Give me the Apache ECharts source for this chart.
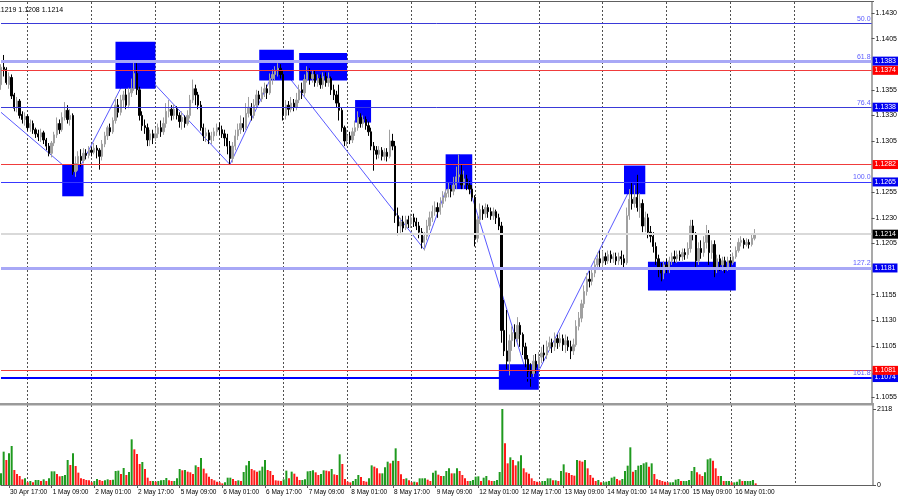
<!DOCTYPE html>
<html><head><meta charset="utf-8">
<script src="https://cdn.jsdelivr.net/npm/echarts@6/dist/echarts.min.js"></script>
<style>html,body{margin:0;padding:0;background:#fff}#c{width:900px;height:500px}</style>
</head><body><div id="c"></div>
<script>
// ---- DATA (prices stored as pips above 1.1000, i.e. price = 1.1 + v/10000) ----
const N_CATS = 328; // hourly slots shown on the axis (incl. empty future)
const opens = [
360,377,375,360,367,350,338,344,331,326, 329,318,322,316,312,309,313,306,300,293,
303,311,322,316,328,335,326,330,275,283, 290,286,293,291,296,294,298,296,290,302,
310,318,314,325,340,333,345,350,340,352, 356,371,355,330,320,318,306,312,308,312,
318,314,322,334,336,330,336,330,324,328, 322,330,345,356,350,340,318,310,313,306,
310,314,318,316,312,308,300,288,300,310, 316,322,318,332,338,330,340,350,346,352,
356,352,366,370,374,376,370,330,340,336, 342,338,345,355,352,365,372,366,370,362,
366,360,368,362,366,355,350,342,335,318, 305,310,306,314,318,328,322,326,320,314,
300,296,292,296,290,294,290,305,300,232, 222,226,220,228,224,230,226,222,216,206,
212,222,230,236,240,236,244,250,254,258, 256,262,270,272,262,268,262,258,250,210,
228,238,234,240,236,232,236,230,222,120, 100,90,110,118,112,125,116,104,92,80,
78,90,84,94,98,96,104,108,104,112, 108,112,106,110,104,100,106,124,132,146,
158,170,168,176,184,190,186,192,188,194, 190,192,188,192,190,186,232,248,244,250,
240,244,222,230,216,212,202,190,180,176, 184,180,188,192,190,194,192,196,194,200,
222,214,188,200,196,206,214,196,204,182, 190,184,188,182,188,186,192,198,206,208,
204,206,204,210];
const highs = [
380,389,377,372,370,352,348,346,334,333, 331,326,325,318,316,317,315,308,303,305,
314,328,326,333,343,340,336,332,290,295, 297,298,297,300,299,303,301,298,306,314,
320,322,328,348,346,350,354,356,357,366, 382,381,358,334,326,322,316,316,318,322,
325,328,342,345,340,341,339,333,334,330, 335,350,365,360,353,344,322,318,316,314,
318,322,323,320,316,312,305,304,316,322, 330,328,342,348,342,346,355,354,358,362,
360,371,375,378,381,380,374,345,344,348, 346,352,360,362,370,378,376,374,374,370,
370,372,372,372,368,360,354,360,338,320, 316,314,318,325,334,332,330,329,324,318,
304,300,300,299,298,298,316,312,305,240, 230,232,232,232,234,234,230,226,220,216,
228,236,242,246,245,250,256,258,264,262, 270,280,292,282,276,272,266,262,252,232,
244,242,244,243,240,240,238,234,226,150, 140,116,124,126,133,128,118,108,96,88,
96,97,99,104,106,110,114,112,118,116, 118,116,116,114,110,112,130,138,150,164,
176,178,182,190,196,198,198,196,198,198, 196,196,196,198,194,240,258,265,262,272,
254,248,236,234,222,216,206,194,186,188, 190,192,196,198,198,198,200,200,206,228,
228,216,206,208,212,223,218,208,208,194, 194,192,192,192,192,196,202,210,212,210,
210,209,214,219];
const lows = [
355,368,360,356,346,334,333,327,322,320, 315,314,312,308,305,304,302,296,290,289,
300,308,312,314,325,322,320,272,270,276, 280,283,287,288,290,292,288,277,286,299,
306,310,312,322,328,330,338,336,337,348, 354,350,325,315,312,300,300,302,305,308,
309,311,318,328,325,326,326,318,316,318, 320,327,342,340,336,315,305,304,302,302,
305,310,311,308,300,292,282,284,296,306, 312,314,316,328,325,327,336,340,343,348,
346,350,360,364,368,366,325,326,330,333, 334,335,342,346,348,362,360,362,358,358,
356,356,358,358,350,345,338,325,314,300, 300,302,303,310,315,318,318,316,310,296,
276,287,288,286,286,285,288,296,225,213, 214,216,218,220,220,221,218,210,200,198,
208,218,226,232,230,233,240,246,250,250, 252,258,264,258,258,257,253,246,202,206,
224,228,230,230,228,228,224,218,108,95, 82,76,100,104,108,104,96,84,70,65,
74,78,82,88,90,92,100,98,100,102, 104,100,98,100,92,96,104,120,128,142,
154,162,164,172,180,182,182,184,185,186, 186,184,184,184,180,184,228,238,240,236,
230,216,216,210,206,196,184,172,168,170, 176,176,184,186,186,188,188,189,190,196,
208,182,184,190,192,200,184,190,172,176, 178,178,176,178,182,184,190,196,202,200,
202,200,202,208];
const closes = [
377,375,362,368,349,337,344,330,326,329, 318,322,316,312,309,313,306,300,293,303,
311,322,316,328,335,326,330,275,283,290, 286,293,291,296,294,298,296,290,302,310,
318,314,325,340,333,345,350,340,352,356, 371,355,330,320,318,306,312,308,312,318,
314,322,334,336,330,336,330,324,328,322, 330,345,356,350,340,318,310,313,306,310,
314,318,316,312,308,300,288,300,310,316, 322,318,332,338,330,340,350,346,352,356,
352,366,370,374,376,370,330,340,336,342, 338,345,355,352,365,372,366,370,362,366,
360,368,362,366,355,350,342,335,318,305, 310,306,314,318,328,322,326,320,314,300,
296,292,296,290,294,290,305,300,232,222, 226,220,228,224,230,226,222,216,206,212,
222,230,236,240,236,244,250,254,258,256, 262,270,272,262,268,262,258,250,210,228,
238,234,240,236,232,236,230,222,120,100, 90,110,118,112,125,116,104,92,80,78,
90,84,94,98,96,104,108,104,112,108, 112,106,110,104,100,106,124,132,146,158,
170,168,176,184,190,186,192,188,194,190, 192,188,192,190,186,232,248,244,250,240,
244,222,230,216,212,202,190,180,176,184, 180,188,192,190,194,192,196,194,200,222,
214,188,200,196,206,214,196,204,182,190, 184,188,182,188,186,192,198,206,208,204,
206,204,210,214];
const volumes = [
325,929,697,883,1087,418,307,251,158,186, 74,111,74,139,139,111,158,111,186,381,
381,307,242,251,279,697,557,883,530,344, 186,167,139,130,74,111,167,139,111,130,
158,139,149,390,400,307,474,279,362,1273, 994,864,585,641,446,204,111,111,93,111,
130,139,195,130,111,111,186,446,409,418, 372,353,307,548,502,752,455,325,232,167,
130,93,74,46,74,204,204,167,111,130, 111,362,548,669,446,409,372,400,511,697,
418,390,279,130,121,111,158,400,186,372, 316,232,139,139,158,381,390,409,353,279,
307,409,400,381,446,297,279,855,585,167, 93,74,111,167,279,223,111,93,186,548,
511,465,325,325,492,650,604,678,1022,669, 297,167,186,130,74,93,74,186,186,186,
149,111,344,400,288,251,251,390,465,325, 325,465,390,279,186,111,111,139,232,242,
111,204,251,130,111,111,139,362,2118,1161, 604,771,697,548,660,827,465,353,316,186,
111,93,74,111,111,186,186,130,130,111, 390,576,353,334,279,260,697,678,650,697,
465,279,204,111,139,74,74,93,111,204, 232,167,130,167,390,539,1050,372,418,539,
557,604,632,511,604,307,158,139,111,93, 74,74,74,149,167,111,111,111,139,390,
502,353,297,251,353,715,743,678,465,251, 251,111,111,111,74,74,93,158,111,111,
111,111,139,46];
const volumeMaxLabel = 2118;
const tickLabels = ['30 Apr 17:00','1 May 09:00','2 May 01:00','2 May 17:00','5 May 09:00',
  '6 May 01:00','6 May 17:00','7 May 09:00','8 May 01:00','8 May 17:00','9 May 09:00',
  '12 May 01:00','12 May 17:00','13 May 09:00','14 May 01:00','14 May 17:00','15 May 09:00','16 May 01:00'];
const firstTickIdx = 3, tickStep = 16;
const daySeparators = [10,34,58,82,106,130,154,178,202,226,250,274,298];
const priceTicks = [1.1430,1.1405,1.1355,1.1330,1.1305,1.1255,1.1230,1.1205,1.1155,1.1130,1.1105,1.1055];
const fibLevels = [['50.0',1.1420],['61.8',1.1383],['76.4',1.1338],['100.0',1.1265],['127.2',1.1181],['161.8',1.1074]];
const redLevels = [1.1374,1.1282,1.1081];
const currentPrice = 1.1214;
// rectangles: [startBar, topPrice, endBar, bottomPrice]
const boxes = [[23,1.1282,31,1.1251],[43,1.1402,58,1.1356],[97,1.1394,110,1.1364],[112,1.1391,130,1.1364],
  [133,1.1345,139,1.1323],[167,1.1292,177,1.1258],[187,1.1087,202,1.1062],[234,1.1281,242,1.1253],[243,1.1187,276,1.1159]];
// zigzag swing points: [bar, price]
const zigzag = [[0,1.1333],[28,1.1271],[50,1.1382],[86,1.1282],[104,1.1381],[159,1.1199],[172,1.1292],[199,1.1065],[239,1.1272]];

// ---- BUILD ----
const P = v => +(1.1 + v / 10000).toFixed(5);
const FONT = 'Liberation Sans';
const cats = Array.from({length: N_CATS}, (_, i) => String(i));
const labelAt = {};
tickLabels.forEach((t, k) => { labelAt[firstTickIdx + k * tickStep] = t; });
const daySet = new Set(daySeparators);
const candle = opens.map((o, i) => [P(o), P(closes[i]), P(lows[i]), P(highs[i])]);
const last = opens.length - 1;
const head = [highs[last], lows[last], closes[last]].map(v => P(v).toFixed(4)).join(' ');

const fibStyle = {
  '50.0': {color:'#3a3ad8', width:1, box:false},
  '61.8': {color:'#a8a8f6', width:3, box:true},
  '76.4': {color:'#3a3ad8', width:1, box:true},
  '100.0': {color:'#3838ff', width:1.2, box:true},
  '127.2': {color:'#a8a8f6', width:3, box:true},
  '161.8': {color:'#0000ff', width:2, box:true}
};
const boxLabel = (v, bg) => ({
  yAxis: v, lineStyle: {color: 'rgba(255,255,255,0)', width: 1, opacity: 1},
  label: {show: true, position: 'end', distance: 1, formatter: v.toFixed(4), backgroundColor: bg,
    color: '#ffffff', opacity: 1, fontSize: 7, fontFamily: FONT, padding: [1, 2, 0, 2], lineHeight: 8}
});
const mlData = [];
fibLevels.forEach(([name, v]) => {
  const s = fibStyle[name];
  mlData.push({yAxis: v, lineStyle: {color: s.color, width: s.width, type: 'solid'},
    label: {show: true, position: 'insideEndTop', distance: 1, formatter: name, color: '#5c5cff', fontSize: 7, fontFamily: FONT}});
});
redLevels.forEach(v => mlData.push({yAxis: v, lineStyle: {color: '#f03c3c', width: 1.2, type: 'solid'}, label: {show: false}}));
mlData.push({yAxis: currentPrice, lineStyle: {color: '#d9d9d9', width: 2, type: 'solid'}, label: {show: false}});
fibLevels.forEach(([name, v]) => { if (fibStyle[name].box) mlData.push(boxLabel(v, '#0000f0')); });
redLevels.forEach(v => mlData.push(boxLabel(v, '#ff0000')));
mlData.push(boxLabel(currentPrice, '#000000'));

const splitDash = {show: true, interval: (idx) => daySet.has(idx), lineStyle: {color: '#505050', type: [2, 2], width: 1}};

const chart = echarts.init(document.getElementById('c'), null, {renderer: 'canvas'});
chart.setOption({
  animation: false,
  backgroundColor: '#ffffff',
  title: {text: head, left: -10, top: 2, textStyle: {fontSize: 7, fontWeight: 'normal', color: '#000', fontFamily: FONT}},
  grid: [
    {left: 1, width: 872, top: 2, height: 401},
    {left: 1, width: 872, top: 405, height: 80}
  ],
  xAxis: [
    {type: 'category', gridIndex: 0, data: cats, boundaryGap: false,
      axisLine: {show: false}, axisTick: {show: false}, axisLabel: {show: false}, splitLine: splitDash},
    {type: 'category', gridIndex: 1, data: cats, boundaryGap: false,
      axisLine: {show: true, lineStyle: {color: '#606060', width: 1}},
      axisTick: {show: true, length: 3, interval: (idx) => idx in labelAt, lineStyle: {color: '#606060'}},
      axisLabel: {show: true, interval: (idx) => idx in labelAt, formatter: (val) => labelAt[+val] || '',
        align: 'left', padding: [0, 0, 0, 1], margin: 4, fontSize: 6.5, color: '#000', fontFamily: FONT},
      splitLine: splitDash}
  ],
  yAxis: [
    {type: 'value', gridIndex: 0, position: 'right', min: 1.104914, max: 1.144074,
      axisLine: {show: true, lineStyle: {color: '#8c8c8c', width: 1.5}},
      axisTick: {show: true, length: 3, customValues: priceTicks, lineStyle: {color: '#555'}},
      axisLabel: {show: true, customValues: priceTicks, formatter: v => v.toFixed(4), margin: 4,
        fontSize: 7, color: '#000', fontFamily: FONT},
      splitLine: {show: false}},
    {type: 'value', gridIndex: 1, position: 'right', min: 0, max: volumeMaxLabel * 80 / 76,
      axisLine: {show: true, lineStyle: {color: '#8c8c8c', width: 1.5}},
      axisTick: {show: true, length: 3, customValues: [0, volumeMaxLabel], lineStyle: {color: '#555'}},
      axisLabel: {show: true, customValues: [0, volumeMaxLabel], formatter: v => String(v), margin: 4,
        fontSize: 7, color: '#000', fontFamily: FONT},
      splitLine: {show: false}}
  ],
  graphic: [
    {type: 'line', z: 100, shape: {x1: 0, y1: 1.5, x2: 874, y2: 1.5}, style: {stroke: '#606060', lineWidth: 1}},
    {type: 'rect', z: 100, shape: {x: 0, y: 403, width: 874, height: 2.5}, style: {fill: '#9a9a9a'}}
  ],
  series: [
    {type: 'line', xAxisIndex: 0, yAxisIndex: 0, z: 0, data: zigzag, symbol: 'none', silent: true,
      lineStyle: {color: '#5a5aff', width: 1}},
    {type: 'candlestick', xAxisIndex: 0, yAxisIndex: 0, z: 2, data: candle, barWidth: 1.8, silent: true,
      itemStyle: {color: '#a0a0a0', color0: '#000000', borderColor: '#a0a0a0', borderColor0: '#000000', borderWidth: 1},
      markArea: {silent: true, z: 1, itemStyle: {color: '#0000ff', opacity: 1},
        data: boxes.map(b => [{coord: [b[0], b[1]]}, {coord: [b[2], b[3]]}])},
      markLine: {silent: true, symbol: ['none', 'none'], z: 5, precision: 5, animation: false, data: mlData}
    },
    {type: 'bar', xAxisIndex: 1, yAxisIndex: 1, barWidth: 2, silent: true,
      data: volumes.map((v, i) => ({value: v, itemStyle: {color: (i > 0 && v < volumes[i - 1]) ? '#ff1a1a' : '#1f9a1f'}}))}
  ]
});
</script>
</body></html>
